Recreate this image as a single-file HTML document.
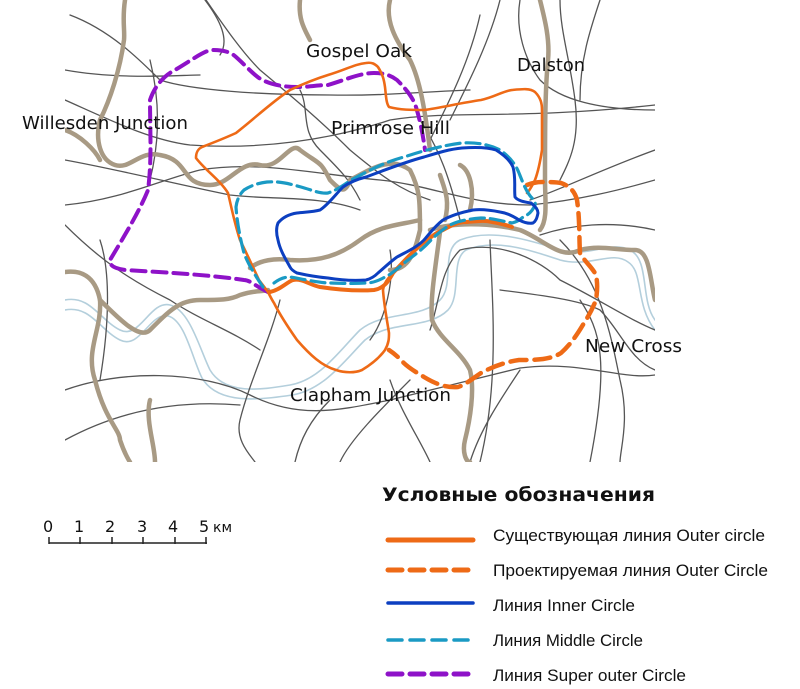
<!DOCTYPE html>
<html><head><meta charset="utf-8"><style>
html,body{margin:0;padding:0;background:#fff;}
body{width:800px;height:689px;overflow:hidden;position:relative;}
svg{position:absolute;left:0;top:0;}
text{font-family:"DejaVu Sans","Liberation Sans",sans-serif;}
.leg{font-family:"Liberation Sans",sans-serif;font-size:17px;fill:#111;}
</style></head><body>
<svg width="800" height="689" viewBox="0 0 800 689" xmlns="http://www.w3.org/2000/svg">
<defs><clipPath id="m"><rect x="65" y="0" width="590" height="462"/></clipPath></defs>
<g clip-path="url(#m)" fill="none" stroke-linecap="round" stroke-linejoin="round">
<g stroke="#b4cfdc" stroke-width="1.6">
<path d="M65,300 C90,295 100,320 120,330 C140,340 150,300 170,305 C190,310 200,350 210,370 C225,395 260,390 290,385 C320,380 340,350 360,330 C385,310 420,320 440,300 C455,285 440,250 460,240 C490,228 530,240 560,250 C590,258 610,240 630,250 C650,260 640,300 655,320"/>
<path d="M65,310 C90,305 100,330 120,340 C140,350 150,312 168,316 C185,320 192,358 202,378 C218,405 260,400 292,395 C324,390 345,360 365,340 C390,320 428,330 448,310 C462,295 450,260 466,250 C495,238 530,250 560,260 C590,268 612,250 628,262 C644,272 635,305 655,330"/>
</g>
<g stroke="#555" stroke-width="1.3">
<path d="M70,15 C110,30 140,60 160,80 C190,90 260,95 330,95 C380,96 420,92 470,90"/>
<path d="M65,70 C120,80 180,75 200,75"/>
<path d="M65,100 C110,120 150,140 190,145 C260,150 330,140 390,120 C450,110 520,120 655,105"/>
<path d="M65,160 C120,170 180,185 230,195 C270,200 320,195 360,210"/>
<path d="M65,205 C120,200 160,180 200,170 C260,160 320,175 380,180 C430,185 470,205 530,205 C580,200 620,190 655,180"/>
<path d="M65,225 C100,260 130,280 170,300 C200,320 230,330 260,350"/>
<path d="M205,0 C220,20 230,40 220,55"/>
<path d="M206,0 C220,20 240,50 260,70 C290,95 320,120 350,150 C380,175 400,190 430,200"/>
<path d="M300,90 C310,110 300,130 320,150 C340,170 350,180 360,200"/>
<path d="M420,120 C440,150 450,180 460,220"/>
<path d="M480,15 C470,60 450,100 430,140"/>
<path d="M500,0 C490,40 470,80 450,120"/>
<path d="M520,0 C515,30 525,60 540,80 C560,100 600,110 655,110"/>
<path d="M560,0 C560,30 570,60 575,100 C580,140 570,160 560,180"/>
<path d="M600,0 C590,30 580,60 580,100"/>
<path d="M530,200 C560,190 600,170 655,150"/>
<path d="M540,235 C570,225 610,220 655,230"/>
<path d="M430,330 C440,300 440,270 460,250 C500,240 540,260 560,280 C600,300 630,320 655,330"/>
<path d="M500,290 C540,295 580,300 600,310 C620,330 630,360 655,370"/>
<path d="M490,240 C492,300 500,380 480,462"/>
<path d="M560,240 C600,280 610,330 620,380 C630,420 620,450 620,462"/>
<path d="M580,300 C600,330 610,360 590,462"/>
<path d="M65,390 C120,370 200,370 250,395 C300,420 340,410 390,400 C430,390 470,380 520,368 C580,360 620,380 655,375"/>
<path d="M65,440 C120,410 180,400 240,405"/>
<path d="M390,380 C400,410 420,440 430,462"/>
<path d="M410,380 C380,410 350,440 340,462"/>
<path d="M520,370 C500,400 480,430 470,462"/>
<path d="M280,300 C270,340 250,380 240,420 C235,440 250,455 255,462"/>
<path d="M330,400 C310,420 300,440 295,462"/>
<path d="M150,60 C160,100 160,140 150,180"/>
<path d="M100,240 C110,270 110,320 100,380"/>
<path d="M390,250 C395,280 385,320 370,340"/>
</g>
<g stroke="#a89a84" stroke-width="4.5">
<path d="M125,0 C122,20 125,30 124,40 C120,70 110,100 100,120 C95,140 100,160 115,165 C130,170 140,150 160,155 C190,160 180,185 210,185 C230,185 240,160 260,165 C280,170 290,140 300,150 C320,165 320,160 330,180 C340,190 345,195 350,180 C370,170 390,155 410,170 C420,190 420,200 420,230 C415,250 410,270 390,270"/>
<path d="M65,130 C80,135 95,150 100,160"/>
<path d="M65,272 C80,270 95,275 100,300 C102,330 85,350 95,380 C105,420 120,430 120,440 C125,455 130,462 130,462"/>
<path d="M100,300 C120,320 140,340 150,330 C170,310 180,300 200,300 C220,300 230,300 240,295 C255,290 262,292 268,290"/>
<path d="M250,268 C260,260 275,258 290,260 C320,262 340,255 360,240 C380,225 400,225 420,220"/>
<path d="M300,0 C298,20 305,30 310,40"/>
<path d="M390,0 C385,20 395,40 410,60 C420,80 425,110 430,150"/>
<path d="M540,0 C545,20 550,40 548,60 C545,90 545,130 545,180 C545,200 548,220 540,230"/>
<path d="M440,175 C445,190 450,200 445,220"/>
<path d="M460,165 C470,170 475,190 470,210"/>
<path d="M430,230 C460,220 500,225 520,230 C545,240 560,260 580,250 C600,245 615,250 635,250 C650,250 650,280 655,300"/>
<path d="M440,232 C435,270 430,300 432,320 C440,340 460,350 470,370 C475,390 470,420 465,440 C462,452 466,462 470,462"/>
<path d="M150,400 C145,420 155,445 155,462"/>
</g>
<path d="M268,292 C255,286 250,280 244,280 C210,275 175,273 125,270 C112,268 110,265 110,260 C125,235 140,210 148,190 C152,160 150,130 150,100 C155,85 165,75 175,70 C195,58 205,50 213,50 C225,50 232,53 236,57 C245,65 252,73 259,78 C270,85 285,87 297,87 C310,87 318,85 328,85 C345,80 360,73 374,73 C385,73 392,76 397,80 C407,90 413,98 416,107 C420,120 423,135 425,150" stroke="#8e12c8" stroke-width="4" stroke-dasharray="14,7"/>
<path d="M268,292 C263,285 261,283 259,280 C252,265 246,252 240,240 C235,225 232,210 228,193 C220,180 205,170 196,158 C196,152 198,149 202,147 C215,142 225,138 236,133 C255,118 272,102 290,90 C305,83 315,79 328,75 C345,70 355,64 366,63 C372,62 375,64 378,67 C383,75 384,80 385,87 C386,95 386,103 389,107 C400,110 412,110 424,110 C440,108 460,103 481,100 C495,97 503,91 512,90 C522,89 530,88 535,92 C541,98 542,104 542,110 C542,125 542,138 542,150 C540,163 538,172 535,180 C532,186 530,190 527,193" stroke="#ee6a16" stroke-width="2.6"/>
<path d="M268,292 C270,296 272,300 274,303 C280,315 290,330 297,340 C310,355 322,366 336,370 C345,373 355,373 362,370 C372,364 380,357 385,350 C389,343 389,338 389,333 C387,320 384,305 383,290 C384,283 388,278 393,273" stroke="#ee6a16" stroke-width="2.6"/>
<path d="M270,292 C280,290 287,282 293,280 C302,278 310,285 320,287 C340,290 360,291 374,290 C385,288 389,280 393,273 C405,260 416,248 427,240 C435,234 438,232 443,230 C452,225 458,222 466,222 C478,221 485,220 492,222 C500,223 506,225 512,227" stroke="#ee6a16" stroke-width="4"/>
<path d="M527,185 C532,183 537,182 542,182 C550,182 556,182 561,183 C570,186 575,192 577,200 C580,220 579,240 580,253 C585,262 592,267 596,275 C598,285 597,293 596,300 C592,310 588,317 584,323 C577,335 570,345 561,353 C550,360 535,360 519,360 C505,362 492,367 481,373 C472,379 465,385 458,387 C445,388 434,383 424,377 C414,371 406,366 401,360 C396,355 392,352 389,350" stroke="#ee6a16" stroke-width="4.5" stroke-dasharray="16,8"/>
<path d="M263,287 C255,275 248,264 244,253 C240,238 237,222 236,207 C237,199 240,194 244,190 C250,186 258,183 267,182 C280,181 290,184 301,187 C312,190 320,194 328,193 C337,190 344,185 351,180 C370,170 385,162 404,157 C425,150 445,145 462,143 C478,142 490,145 500,150 C510,157 516,165 519,173 C523,183 526,191 531,197 C534,200 536,203 535,205 C532,212 528,215 523,217 C520,220 516,222 512,223 C502,221 492,218 481,218 C468,219 458,221 450,225 C442,230 436,235 431,240 C422,250 413,256 404,263 C396,270 390,275 385,277 C378,281 372,283 366,283 C352,284 340,283 328,283 C315,282 302,279 290,277 C283,277 278,280 274,283" stroke="#1a9ac4" stroke-width="3.2" stroke-dasharray="14,6"/>
<path d="M290,267 C285,258 280,250 278,240 C276,233 276,228 278,223 C283,217 290,214 297,213 C305,212 313,212 320,210 C328,205 335,195 343,187 C350,182 358,179 366,177 C385,170 405,162 424,157 C437,153 450,149 462,148 C475,147 487,147 496,150 C504,155 510,160 513,167 C516,178 514,188 515,197 C518,201 525,202 531,203 C535,206 538,209 538,213 C537,218 536,221 533,223 C528,224 523,222 519,220 C513,216 507,213 500,212 C490,210 482,209 473,210 C463,212 452,215 443,220 C435,226 430,233 424,240 C416,248 406,252 397,257 C390,262 384,268 378,273 C374,277 370,279 366,280 C352,281 340,280 328,278 C316,277 306,275 297,273 C293,271 291,269 290,267 Z" stroke="#0c3fc0" stroke-width="3"/>
</g>
<g font-size="18" fill="#111" font-family="Liberation Sans, sans-serif">
<text x="306" y="57" textLength="106" lengthAdjust="spacingAndGlyphs">Gospel Oak</text>
<text x="517" y="71" textLength="68" lengthAdjust="spacingAndGlyphs">Dalston</text>
<text x="22" y="129" textLength="166" lengthAdjust="spacingAndGlyphs">Willesden Junction</text>
<text x="331" y="134" textLength="119" lengthAdjust="spacingAndGlyphs">Primrose Hill</text>
<text x="585" y="352" textLength="97" lengthAdjust="spacingAndGlyphs">New Cross</text>
<text x="290" y="401" textLength="161" lengthAdjust="spacingAndGlyphs">Clapham Junction</text>
</g>
<g font-family="Liberation Mono, monospace" font-size="16" fill="#111">
<text x="43" y="532">0</text><text x="74" y="532">1</text><text x="105" y="532">2</text><text x="137" y="532">3</text><text x="168" y="532">4</text><text x="199" y="532">5</text>
<text x="213" y="532" font-size="14">км</text>
</g>
<g stroke="#222" stroke-width="1.5" fill="none">
<path d="M49,543 H207"/>
<path d="M49,537 V544 M80,537 V544 M112,537 V544 M143,537 V544 M175,537 V544 M206,537 V544"/>
</g>
<text x="382" y="501" font-family="DejaVu Sans, Liberation Sans, sans-serif" font-weight="bold" font-size="19" fill="#111" textLength="273" lengthAdjust="spacingAndGlyphs">Условные обозначения</text>
<g fill="none" stroke-linecap="round">
<path d="M388,540 H473" stroke="#ee6a16" stroke-width="5"/>
<path d="M388,570 H473" stroke="#ee6a16" stroke-width="5" stroke-dasharray="14,8"/>
<path d="M388,603 H473" stroke="#0c3fc0" stroke-width="3.5"/>
<path d="M388,640 H473" stroke="#1a9ac4" stroke-width="3.5" stroke-dasharray="14,8"/>
<path d="M388,674 H473" stroke="#8e12c8" stroke-width="5" stroke-dasharray="14,8"/>
</g>
<text class="leg" x="493" y="541" textLength="272" lengthAdjust="spacingAndGlyphs">Существующая линия Outer circle</text>
<text class="leg" x="493" y="576" textLength="275" lengthAdjust="spacingAndGlyphs">Проектируемая линия Outer Circle</text>
<text class="leg" x="493" y="611" textLength="142" lengthAdjust="spacingAndGlyphs">Линия Inner Circle</text>
<text class="leg" x="493" y="646" textLength="150" lengthAdjust="spacingAndGlyphs">Линия Middle Circle</text>
<text class="leg" x="493" y="681" textLength="193" lengthAdjust="spacingAndGlyphs">Линия Super outer Circle</text>
</svg>
</body></html>
